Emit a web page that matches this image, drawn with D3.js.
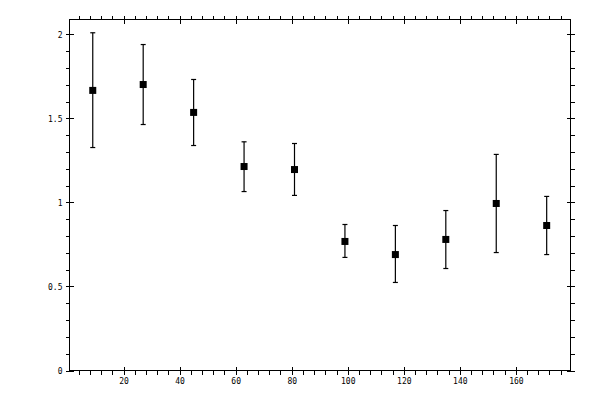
<!DOCTYPE html>
<html>
<head>
<meta charset="utf-8">
<script src="https://cdn.jsdelivr.net/npm/d3@7"></script>
<style>
  body { margin: 0; background: #fff; }
  text { font-family: "DejaVu Sans Mono", monospace; font-size: 8px; fill: #000; }
</style>
</head>
<body>
<div id="chart"></div>
<script>
// data
const binCenters = [9, 27, 45, 63, 81, 99, 117, 135, 153, 171];
const values     = [1.667, 1.702, 1.536, 1.214, 1.196, 0.768, 0.690, 0.780, 0.994, 0.863];
const errHigh    = [2.010, 1.940, 1.732, 1.361, 1.351, 0.869, 0.863, 0.952, 1.286, 1.036];
const errLow     = [1.327, 1.464, 1.339, 1.065, 1.042, 0.673, 0.524, 0.607, 0.702, 0.690];
const xMajor = [20, 40, 60, 80, 100, 120, 140, 160];
const yMajor = [0, 0.5, 1, 1.5, 2];
const yLabels = ["0", "0.5", "1", "1.5", "2"];

const W = 600, H = 400;
const margin = {top: 19.5, right: 29.5, bottom: 29.5, left: 69.5};

const svg = d3.select("#chart").append("svg")
    .attr("width", W)
    .attr("height", H);

const x = d3.scaleLinear()
    .domain([0.7, 179.5])
    .range([margin.left, W - margin.right]);

const y = d3.scaleLinear()
    .domain([0, 2.089])
    .range([H - margin.bottom, margin.top]);

const xMinor = d3.range(4, 180, 4).filter(v => v % 20 !== 0);
const yMinor = d3.range(0.1, 2.09, 0.1).filter(v => Math.abs(v * 2 - Math.round(v * 2)) > 1e-6);

// frame
svg.append("rect")
    .attr("x", margin.left).attr("y", margin.top)
    .attr("width", W - margin.left - margin.right)
    .attr("height", H - margin.top - margin.bottom)
    .attr("fill", "none").attr("stroke", "#000").attr("stroke-width", 1);

function axisGroup(axis, tx, ty) {
  const g = svg.append("g").attr("transform", `translate(${tx},${ty})`).call(axis);
  g.select(".domain").remove();
  g.selectAll("line").attr("stroke", "#000").attr("shape-rendering", "crispEdges");
  return g;
}

// bottom
axisGroup(d3.axisBottom(x).tickValues(xMinor).tickSize(4).tickFormat(""), 0, H - margin.bottom);
axisGroup(d3.axisBottom(x).tickValues(xMajor).tickSize(4).tickPadding(4), 0, H - margin.bottom)
  .selectAll("line").attr("y1", -4);
// top
axisGroup(d3.axisTop(x).tickValues(xMinor).tickSize(4).tickFormat(""), 0, margin.top);
axisGroup(d3.axisTop(x).tickValues(xMajor).tickSize(4).tickFormat(""), 0, margin.top)
  .selectAll("line").attr("y1", 4);
// left
axisGroup(d3.axisLeft(y).tickValues(yMinor).tickSize(4).tickFormat(""), margin.left, 0);
axisGroup(d3.axisLeft(y).tickValues(yMajor).tickSize(4).tickPadding(3)
    .tickFormat((d, i) => yLabels[i]), margin.left, 0)
  .selectAll("line").attr("x1", 4);
// right
axisGroup(d3.axisRight(y).tickValues(yMinor).tickSize(4).tickFormat(""), W - margin.right, 0);
axisGroup(d3.axisRight(y).tickValues(yMajor).tickSize(4).tickFormat(""), W - margin.right, 0)
  .selectAll("line").attr("x1", -4);

svg.selectAll(".tick text").style("font-family", "'DejaVu Sans Mono', monospace").style("font-size", "8px");

// error bars
const pts = binCenters.map((c, i) => ({c, v: values[i], hi: errHigh[i], lo: errLow[i]}));
const bars = svg.append("g").attr("stroke", "#000").attr("stroke-width", 1.2);
bars.selectAll("line.v").data(pts).join("line")
    .attr("x1", d => x(d.c)).attr("x2", d => x(d.c))
    .attr("y1", d => y(d.hi)).attr("y2", d => y(d.lo));
bars.selectAll("line.hi").data(pts).join("line")
    .attr("x1", d => x(d.c) - 2.5).attr("x2", d => x(d.c) + 2.5)
    .attr("y1", d => y(d.hi)).attr("y2", d => y(d.hi));
bars.selectAll("line.lo").data(pts).join("line")
    .attr("x1", d => x(d.c) - 2.5).attr("x2", d => x(d.c) + 2.5)
    .attr("y1", d => y(d.lo)).attr("y2", d => y(d.lo));

// markers
svg.append("g").selectAll("rect").data(pts).join("rect")
    .attr("x", d => x(d.c) - 3.5).attr("y", d => y(d.v) - 3.5)
    .attr("width", 7).attr("height", 7)
    .attr("fill", "#000");
</script>
</body>
</html>
